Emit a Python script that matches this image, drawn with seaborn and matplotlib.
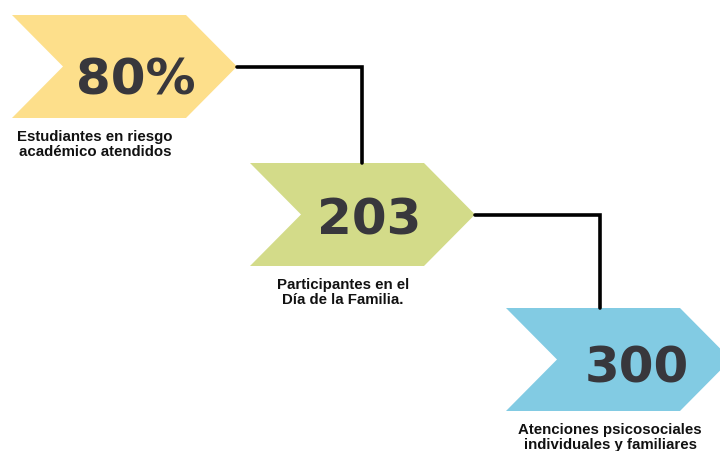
import matplotlib
matplotlib.use("Agg")
import seaborn as sns
import matplotlib.pyplot as plt

sns.set_theme(style="white")
plt.rcParams['font.family'] = ['Liberation Sans', 'DejaVu Sans']

# data
values = ["80%", "203", "300"]
labels = ["Estudiantes en riesgo\nacadémico atendidos",
          "Participantes en el\nDía de la Familia.",
          "Atenciones psicosociales\nindividuales y familiares"]
colors = ["#FDDF8B", "#D3DB89", "#82CBE3"]

# layout (pixel coords, y down)
lefts = [12, 250, 506]
tops = [16, 164, 309]
num_dx = [124, 119, 131]
num_dy = [27, 19, 22]
lab_dx = [83, 93, 104]
W, H, TIP = 225, 103, 51


def main():
    fig = plt.figure(figsize=(7.2, 4.52), dpi=100)
    ax = fig.add_axes([0, 0, 1, 1])
    ax.set_xlim(0, 720)
    ax.set_ylim(452, 0)
    ax.axis("off")

    for i, (val, lab, col) in enumerate(zip(values, labels, colors)):
        x0, y0 = lefts[i], tops[i]
        ym = y0 + H / 2
        xs = [x0, x0 + W - TIP, x0 + W, x0 + W - TIP, x0, x0 + TIP]
        ys = [y0, y0, ym, y0 + H, y0 + H, ym]
        ax.fill(xs, ys, color=col, lw=0, zorder=1)
        ax.text(x0 + num_dx[i], ym + num_dy[i], val, ha="center", va="baseline",
                fontsize=36, fontweight="bold", color="#38373c",
                family="DejaVu Sans", zorder=3)
        ax.text(x0 + lab_dx[i], y0 + H + 11, lab, ha="center", va="top",
                fontsize=10.8, fontweight="bold", color="#111111",
                linespacing=1.05, zorder=3)
        # connector to the next arrow
        if i < len(values) - 1:
            xe = lefts[i + 1] + W / 2 - 1 if i == 0 else 600
            ax.plot([x0 + W, xe, xe], [ym, ym, tops[i + 1]], color="black",
                    lw=2.6, solid_joinstyle="miter", zorder=2)

    plt.savefig("out.png", dpi=100)


if __name__ == '__main__':
    main()
